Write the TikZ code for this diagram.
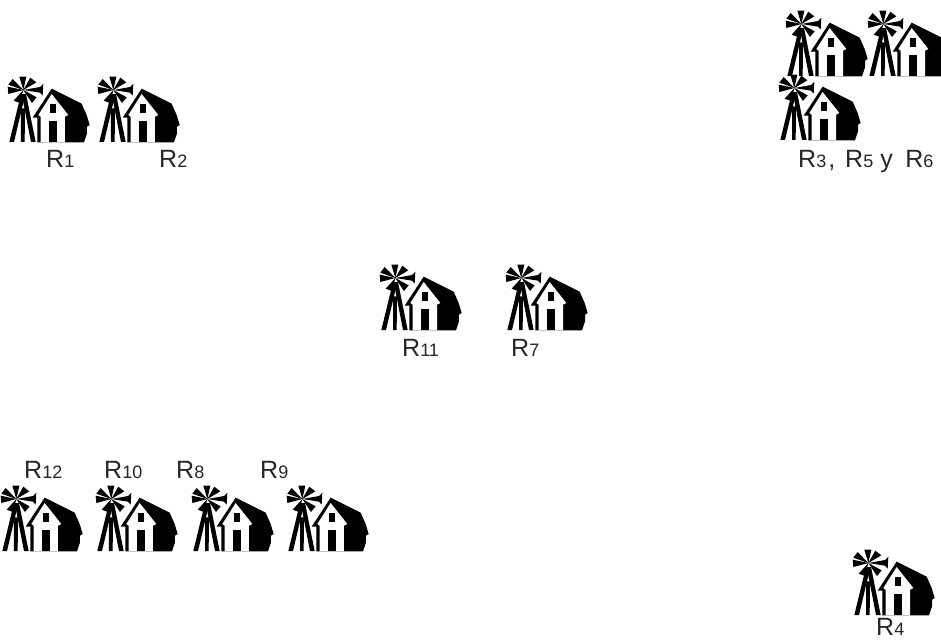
\documentclass[tikz,border=0pt]{standalone}
\usepackage{fontspec}
\setmainfont{Liberation Sans}
\newcommand{\lblR}[1]{{\fontsize{25}{27}\selectfont R}{\fontsize{18}{20}\selectfont #1}}
\newcommand{\lblT}[1]{{\fontsize{25}{27}\selectfont #1}}
\tikzset{
  lbl/.style={inner sep=0pt,anchor=base west,text=black!85},
  farm/.pic={
    \begin{scope}[x=0.3333pt,y=-0.3333pt]
      % blades
      \fill[black] (70,60) -- (58,20) -- (79,20) -- cycle;
      \fill[black] (70,60) -- (91,23) -- (109,37) -- cycle;
      \fill[black] (70,60) -- (120,51) -- (130,41) -- (128,77) -- (120,68) -- cycle;
      \fill[black] (70,60) -- (110,82) -- (96,99) -- cycle;
      \fill[black] (70,60) -- (60,99) -- (41,92) -- cycle;
      \fill[black] (70,60) -- (25,72) -- (23,50) -- cycle;
      \fill[black] (70,60) -- (25,44) -- (38,27) -- cycle;
      % legs
      \fill[black] (63,72) -- (76,72) -- (42,216) -- (28,216) -- cycle;
      \fill[black] (65,72) -- (78,72) -- (107,216) -- (93,216) -- cycle;
      \fill[black] (63,115) -- (75,115) -- (74,216) -- (63,216) -- cycle;
      % barn
      \fill[black] (155,56) -- (245,101) -- (260,135) -- (269,165) -- (261,170) -- (261,190) -- (252,217) -- (112,217) -- (112,143) -- (98,143) -- cycle;
      \fill[white] (155,72) -- (205,135) -- (195,140) -- (195,217) -- (122,217) -- (122,140) -- (115,135) -- cycle;
      \fill[black] (150,102) rectangle (167,130);
      \fill[black] (148,152) rectangle (170,217);
    \end{scope}
  }
}
\begin{document}
\begin{tikzpicture}[x=1pt,y=-1pt]
\useasboundingbox (0,0) rectangle (941,641);
\pic at (0,70) {farm};
\pic at (90,70) {farm};
\pic at (778,4) {farm};
\pic at (860,4) {farm};
\pic at (771,68) {farm};
\pic at (372,258) {farm};
\pic at (498,258) {farm};
\pic at (-7,479) {farm};
\pic at (88,479) {farm};
\pic at (184,479) {farm};
\pic at (279,479) {farm};
\pic at (845,543) {farm};
\node[lbl] (r1) at (46,167) {\lblR{1}};
\node[lbl] (r2) at (159,167) {\lblR{2}};
\node[lbl] (r356) at (798,167) {\lblR{3}\kern2pt\lblT{,}\kern10pt\lblR{5}\kern7pt\lblT{y}\kern12.5pt\lblR{6}};
\node[lbl] (r11) at (402,356) {\lblR{11}};
\node[lbl] (r7) at (511,356) {\lblR{7}};
\node[lbl] (r12) at (24,478) {\lblR{12}};
\node[lbl] (r10) at (104,478) {\lblR{10}};
\node[lbl] (r8) at (176,478) {\lblR{8}};
\node[lbl] (r9) at (260,478) {\lblR{9}};
\node[lbl] (r4) at (876,635.5) {\lblR{4}};
\end{tikzpicture}
\end{document}
